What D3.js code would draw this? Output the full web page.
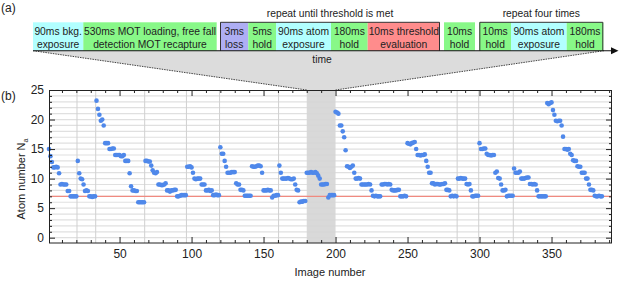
<!DOCTYPE html>
<html>
<head>
<meta charset="utf-8">
<script src="https://cdn.jsdelivr.net/npm/d3@7"></script>
<style>
body { margin: 0; background: #fff; }
text { font-family: "Liberation Sans", Arial, sans-serif; fill: #222; }
.axis path.domain { display: none; }
.axis line { stroke: #222; }
.axis text { font-size: 12px; }
</style>
</head>
<body>
<svg width="620" height="284"></svg>
<script>
// atom number per image (image number = index + 1), one line per loading cycle
var atomNumber = [
  15, 13.8, 12.8, 11.9, 11.9, 12, 11.9, 10.9, 9, 9.1, 9, 9, 9, 7.9, 7.9, 7, 7, 7, 7, 7,
  13, 10.9, 10, 9.9, 9, 7.9, 8, 7.9, 7, 7, 6.9, 7, 7,
  23.2, 21.8, 20.8, 19.8, 20, 19, 16, 16, 16, 15, 15, 15.1, 15.1, 14, 14, 14, 14, 13.8, 13.8, 14, 13, 13, 13, 10.9, 8.7, 8, 8, 7.9, 7.9, 6, 6, 6, 6, 6,
  13, 13, 12.9, 12.9, 12.2, 11.4, 11, 10.9, 11.1, 9, 9, 8.9, 8.9, 9, 9.2, 8, 8, 7.8, 8, 8, 8.1, 8.1, 7, 7, 7.1, 7.2, 7.2, 7.2, 7.2,
  12, 12, 12.1, 11.9, 11, 10, 9.9, 10, 10, 10, 9, 9, 9, 8, 8, 8.1, 7.9, 8, 7.2, 7.2, 7.3, 7.2, 7.2,
  15.3, 14.2, 14.2, 13, 12, 11, 11, 11, 11.1, 11.1, 11.1, 9.2, 9, 9, 8.1, 8.1, 8, 7.1, 7.1, 7.1, 7.1, 7.1,
  12.1, 12, 12, 12.1, 12.2, 12.2, 12.1, 11, 8, 8, 8, 8.1, 8, 8, 6.8, 7.1, 7.1, 7.2, 7.2,
  12.2, 11, 10, 10, 10, 10, 10.1, 10, 9.9, 9.9, 10, 9, 8.1, 8, 6, 6.1, 6.1, 6.2, 6.2,
  11, 11, 11, 11.1, 11, 11, 11.1, 10.9, 10.5, 10, 9, 9, 9, 9.1, 9.1, 6.8, 7.2, 7.2, 7.2, 7.2,
  21.3, 21.2, 21, 19, 19, 18, 17, 14.8, 12.1, 12, 11.8, 12, 12.2, 11, 10, 10, 10.1, 10, 9, 9, 9, 9, 9, 9.1, 9, 8, 7.1, 7, 7.1, 7, 7, 7,
  9, 9, 9.1, 9.1, 9, 9.1, 9, 8.1, 8, 8, 8, 8.1, 8.1, 7, 7, 7, 7.1, 7,
  16, 15.9, 15.8, 16, 16.1, 16.2, 15, 14, 14, 13.9, 14, 14, 14.1, 13, 12, 11, 11, 9.2, 9.2, 9, 9.1, 9.1, 9, 9, 9.1, 9.1, 9.2, 8.1, 8.1, 8, 7, 7.1, 7, 7.1, 7,
  10, 10, 10.1, 10, 10, 10, 9.1, 9, 9.1, 8, 7, 7, 7.1, 7.1, 7.1,
  16, 15, 15, 15.1, 15.1, 14.2, 14, 14, 13.9, 14, 14, 11, 11.2, 10.1, 10, 9, 8, 8, 8.1, 7, 7.1, 7.1, 7.1, 7.1,
  11.7, 11, 11, 11, 11.2, 10, 10, 10, 10.1, 10.2, 10.2, 9.1, 9.1, 9, 9.1, 9, 8, 7, 7, 7, 7, 7, 7,
  22.8, 22.6, 22.8, 22.9, 21.6, 20.8, 19.8, 19.7, 19.8, 19.8, 19, 17.1, 15, 15, 14.9, 15, 14.2, 14, 13.1, 13, 13, 12.1, 12, 12, 11, 11, 11, 10, 10, 9, 8.1, 8.1, 8, 7.1, 7, 7, 7.1, 7, 7
];
var threshold = 7;
var zoomedImages = [180, 200];
var cycleStarts = [21, 34, 68, 97, 120, 161, 285, 300, 324];
var xTicks = [50, 100, 150, 200, 250, 300, 350];
var yTicks = [0, 5, 10, 15, 20, 25];

// timing sequence (panel a)
var stepLabels = [
  ["90ms bkg.", "exposure"],
  ["530ms MOT loading, free fall", "detection MOT recapture"],
  ["3ms", "loss"],
  ["5ms", "hold"],
  ["90ms atom", "exposure"],
  ["180ms", "hold"],
  ["10ms threshold", "evaluation"],
  ["10ms", "hold"],
  ["10ms", "hold"],
  ["90ms atom", "exposure"],
  ["180ms", "hold"]
];
var stepKinds = ["exposure", "hold", "loss", "hold", "exposure", "hold", "threshold", "hold", "hold", "exposure", "hold"];
var stepEdges = [[33, 83.3], [83.3, 216.7], [220, 248.3], [248.3, 276], [276, 331], [331, 367.7], [367.7, 440],
                 [444, 475], [479.3, 511], [511, 566.7], [566.7, 603.3]];
var repeatGroups = [
  {label: "repeat until threshold is met", from: 2, to: 6},
  {label: "repeat four times", from: 8, to: 10}
];

var kindColor = {exposure: "#b2ffff", hold: "#88f888", loss: "#aeaef4", threshold: "#ff8c8c"};

var svg = d3.select("svg");

var boxTop = 22.3, boxBottom = 50.7;

// gray zoom wedge from time line to plot
var x = d3.scaleLinear().domain([1, 392]).range([49, 612]);
var y = d3.scaleLinear().domain([-0.9, 25]).range([243, 90]);

svg.append("path")
    .attr("d", d3.line()([[33, boxBottom], [604, boxBottom], [x(zoomedImages[1]), 90], [x(zoomedImages[0]), 90]]))
    .attr("fill", "#dcdcdc");
svg.append("line")
    .attr("x1", 33).attr("y1", boxBottom).attr("x2", x(zoomedImages[0])).attr("y2", 90)
    .attr("stroke", "#444").attr("stroke-dasharray", "1.5,1");
svg.append("line")
    .attr("x1", 604).attr("y1", boxBottom).attr("x2", x(zoomedImages[1])).attr("y2", 90)
    .attr("stroke", "#444").attr("stroke-dasharray", "1.5,1");

// boxes
var steps = svg.selectAll(".step")
    .data(stepLabels)
    .enter().append("g")
    .attr("class", "step");

steps.append("rect")
    .attr("x", function(d, i) { return stepEdges[i][0]; })
    .attr("y", boxTop)
    .attr("width", function(d, i) { return stepEdges[i][1] - stepEdges[i][0]; })
    .attr("height", boxBottom - boxTop)
    .attr("fill", function(d, i) { return kindColor[stepKinds[i]]; });

steps.append("text")
    .attr("x", function(d, i) { return (stepEdges[i][0] + stepEdges[i][1]) / 2; })
    .attr("y", 35.3)
    .attr("text-anchor", "middle")
    .style("font-size", "10.3px")
    .text(function(d) { return d[0]; });
steps.append("text")
    .attr("x", function(d, i) { return (stepEdges[i][0] + stepEdges[i][1]) / 2; })
    .attr("y", 47.9)
    .attr("text-anchor", "middle")
    .style("font-size", "10.3px")
    .text(function(d) { return d[1]; });

// frames round the repeated groups
repeatGroups.forEach(function(g) {
  var x0 = stepEdges[g.from][0], x1 = stepEdges[g.to][1];
  svg.append("path")
      .attr("d", d3.line()([[x0 + 0.5, boxBottom], [x0 + 0.5, boxTop], [x1 - 0.5, boxTop], [x1 - 0.5, boxBottom]]))
      .attr("fill", "none")
      .attr("stroke", "#333");
  svg.append("text")
      .attr("x", (x0 + x1) / 2)
      .attr("y", 17)
      .attr("text-anchor", "middle")
      .style("font-size", "10.3px")
      .text(g.label);
});

// time arrow
svg.append("line")
    .attr("x1", 33).attr("y1", boxBottom).attr("x2", 612).attr("y2", boxBottom)
    .attr("stroke", "#111").attr("stroke-width", 1.1);
svg.append("path")
    .attr("d", d3.line()([[611, boxBottom - 3.5], [618.5, boxBottom], [611, boxBottom + 3.5]]))
    .attr("fill", "#111");
svg.append("text")
    .attr("x", 322).attr("y", 62.5)
    .attr("text-anchor", "middle")
    .style("font-size", "10.3px")
    .text("time");

svg.append("text").attr("x", 1).attr("y", 12).style("font-size", "12px").text("(a)");
svg.append("text").attr("x", 1).attr("y", 100).style("font-size", "12px").text("(b)");

// ---- panel b ----
var plot = svg.append("g");

plot.append("rect")
    .attr("x", x(zoomedImages[0]))
    .attr("y", 90)
    .attr("width", x(zoomedImages[1]) - x(zoomedImages[0]))
    .attr("height", 153)
    .attr("fill", "#d9d9d9");

// horizontal grid every unit
plot.selectAll(".hgrid")
    .data(d3.range(0, 25))
    .enter().append("line")
    .attr("class", "hgrid")
    .attr("x1", 49).attr("x2", 612)
    .attr("y1", function(d) { return y(d); })
    .attr("y2", function(d) { return y(d); })
    .attr("stroke", "#d6d6d6")
    .attr("stroke-opacity", 0.75)
    .attr("stroke-width", 1.2);

plot.selectAll(".vgrid")
    .data(cycleStarts)
    .enter().append("line")
    .attr("class", "vgrid")
    .attr("x1", function(d) { return x(d) - 0.8; })
    .attr("x2", function(d) { return x(d) - 0.8; })
    .attr("y1", 90).attr("y2", 243)
    .attr("stroke", "#d0d0d0");

plot.append("line")
    .attr("x1", 49).attr("x2", 612)
    .attr("y1", y(threshold)).attr("y2", y(threshold))
    .attr("stroke", "#f08a80")
    .attr("stroke-width", 1.2);

plot.selectAll(".dot")
    .data(atomNumber)
    .enter().append("circle")
    .attr("class", "dot")
    .attr("cx", function(d, i) { return x(i + 1); })
    .attr("cy", function(d) { return y(d); })
    .attr("r", 2.3)
    .attr("fill", "#4f88ea");

// axes with inward ticks on all four sides
var minorX = d3.range(10, 392, 10).filter(function(v) { return v % 50 !== 0; });
var minorY = d3.range(0, 25).filter(function(v) { return v % 5 !== 0; });

plot.append("g").attr("class", "axis")
    .attr("transform", "translate(0,243)")
    .call(d3.axisBottom(x).tickValues(xTicks).tickSize(-6).tickPadding(6));
plot.append("g").attr("class", "axis")
    .attr("transform", "translate(0,243)")
    .call(d3.axisBottom(x).tickValues(minorX).tickSize(-3).tickFormat(""));
plot.append("g").attr("class", "axis")
    .attr("transform", "translate(0,90)")
    .call(d3.axisTop(x).tickValues(xTicks).tickSize(-6).tickFormat(""));
plot.append("g").attr("class", "axis")
    .attr("transform", "translate(0,90)")
    .call(d3.axisTop(x).tickValues(minorX).tickSize(-3).tickFormat(""));

plot.append("g").attr("class", "axis")
    .attr("transform", "translate(49,0)")
    .call(d3.axisLeft(y).tickValues(yTicks).tickSize(-6).tickPadding(5));
plot.append("g").attr("class", "axis")
    .attr("transform", "translate(49,0)")
    .call(d3.axisLeft(y).tickValues(minorY).tickSize(-3).tickFormat(""));
plot.append("g").attr("class", "axis")
    .attr("transform", "translate(612,0)")
    .call(d3.axisRight(y).tickValues(yTicks).tickSize(-6).tickFormat(""));
plot.append("g").attr("class", "axis")
    .attr("transform", "translate(612,0)")
    .call(d3.axisRight(y).tickValues(minorY).tickSize(-3).tickFormat(""));

plot.append("rect")
    .attr("x", 49.5).attr("y", 90.5)
    .attr("width", 562).attr("height", 152.5)
    .attr("fill", "none")
    .attr("stroke", "#222");

// axis titles
plot.append("text")
    .attr("x", 330).attr("y", 276)
    .attr("text-anchor", "middle")
    .style("font-size", "11px")
    .text("Image number");

var yTitle = plot.append("text")
    .attr("transform", "translate(25,179) rotate(-90)")
    .attr("text-anchor", "middle")
    .style("font-size", "11px");
yTitle.append("tspan").text("Atom number N");
yTitle.append("tspan").attr("dy", 2.5).style("font-size", "7px").text("a");
</script>
</body>
</html>
